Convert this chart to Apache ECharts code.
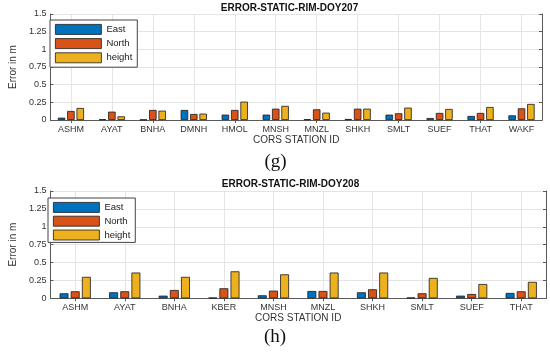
<!DOCTYPE html>
<html><head><meta charset="utf-8">
<script src="https://cdn.jsdelivr.net/npm/echarts@6/dist/echarts.min.js"></script>
<style>html,body{margin:0;padding:0;background:#fff}#c{width:550px;height:354px}</style>
</head><body><div id="c"></div>
<script>
// ---- data (g) DOY207 ----
const stations207 = ['ASHM','AYAT','BNHA','DMNH','HMOL','MNSH','MNZL','SHKH','SMLT','SUEF','THAT','WAKF'];
const east207   = [0.033,0.010,0.005,0.142,0.076,0.076,0.010,0.014,0.076,0.028,0.057,0.066];
const north207  = [0.128,0.118,0.142,0.085,0.142,0.160,0.151,0.160,0.095,0.100,0.100,0.165];
const height207 = [0.170,0.052,0.132,0.090,0.260,0.200,0.104,0.160,0.175,0.156,0.184,0.227];
// ---- data (h) DOY208 ----
const stations208 = ['ASHM','AYAT','BNHA','KBER','MNSH','MNZL','SHKH','SMLT','SUEF','THAT'];
const east208   = [0.070,0.084,0.037,0.009,0.042,0.102,0.084,0.010,0.037,0.075];
const north208  = [0.098,0.098,0.116,0.140,0.107,0.102,0.126,0.070,0.060,0.098];
const height208 = [0.300,0.360,0.300,0.377,0.335,0.360,0.360,0.285,0.200,0.230];
const yTicks = [0, 0.25, 0.5, 0.75, 1, 1.25, 1.5];
const seriesNames = ['East','North','height'];
const colors = ['#0072BD','#D95319','#EDB120'];

const chart = echarts.init(document.getElementById('c'), null, {renderer:'canvas'});
const txt = '#333';
const axisCol = '#5a5a5a';
const gridCol = '#e4e4e4';
const font = 'Liberation Sans, Arial, sans-serif';

function xAxes(gi, data){
  return [{
    gridIndex: gi, type:'category', data, position:'bottom',
    axisLine:{show:true, lineStyle:{color:axisCol, width:1}},
    axisTick:{show:true, inside:true, alignWithLabel:true, length:3, lineStyle:{color:axisCol}},
    axisLabel:{fontSize:9, color:txt, margin:5, fontFamily:font, interval:0},
    splitLine:{show:true, alignWithLabel:true, lineStyle:{color:gridCol, width:1}},
    name:'CORS STATION ID', nameLocation:'middle', nameGap:15,
    nameTextStyle:{fontSize:10, color:txt, fontFamily:font}
  },{
    gridIndex: gi, type:'category', data, position:'top',
    axisLine:{show:true, lineStyle:{color:axisCol, width:1}},
    axisTick:{show:true, inside:true, alignWithLabel:true, length:3, lineStyle:{color:axisCol}},
    axisLabel:{show:false}, splitLine:{show:false}
  }];
}
function yAxes(gi, gap){
  return [{
    gridIndex: gi, type:'value', min:yTicks[0], max:yTicks[yTicks.length-1], interval:0.25, position:'left',
    axisLine:{show:true, lineStyle:{color:axisCol, width:1}},
    axisTick:{show:true, inside:true, length:3, lineStyle:{color:axisCol}},
    axisLabel:{fontSize:9, color:txt, margin:4, fontFamily:font},
    splitLine:{show:true, lineStyle:{color:gridCol, width:1}},
    name:'Error in m', nameLocation:'middle', nameGap:gap, nameRotate:90,
    nameTextStyle:{fontSize:10, color:txt, fontFamily:font}
  },{
    gridIndex: gi, type:'value', min:yTicks[0], max:yTicks[yTicks.length-1], interval:0.25, position:'right',
    axisLine:{show:true, lineStyle:{color:axisCol, width:1}},
    axisTick:{show:true, inside:true, length:3, lineStyle:{color:axisCol}},
    axisLabel:{show:false}, splitLine:{show:false}
  }];
}
function bars(xi, yi, arrs, catGap){
  return arrs.map((d,i)=>({
    type:'bar', name:seriesNames[i], data:d, xAxisIndex:xi, yAxisIndex:yi,
    barGap:'25%', barCategoryGap:catGap,
    itemStyle:{color:colors[i], borderColor:'#1a1a1a', borderWidth:0.8},
    emphasis:{disabled:true}, animation:false
  }));
}
const legendBase = {
  data:seriesNames, orient:'vertical', icon:'rect', itemWidth:46, itemHeight:10,
  backgroundColor:'#fff', borderColor:'#444', borderWidth:1, borderRadius:0,
  itemStyle:{borderColor:'#1a1a1a', borderWidth:0.8},
  textStyle:{fontSize:9.5, color:'#222', fontFamily:font}, selectedMode:false
};

const option = {
  animation:false,
  grid:[
    {left:37, right:8, top:14, height:106, containLabel:false},
    {left:35, right:4, top:191, height:107.3, containLabel:false}
  ],
  xAxis:[...xAxes(0, stations207), ...xAxes(1, stations208)],
  yAxis:[...yAxes(0, 23), ...yAxes(1, 21)],
  legend:[
    Object.assign({}, legendBase, {left:50, top:20, itemGap:3.4, padding:[4,5,4,5]}),
    Object.assign({}, legendBase, {left:48, top:198, itemGap:3, padding:[4,5,2,5]})
  ],
  graphic:[
    {type:'text', x:289.5, y:8.5, style:{text:'ERROR-STATIC-RIM-DOY207', textAlign:'center', textVerticalAlign:'middle', font:'bold 10px Liberation Sans, Arial, sans-serif', fill:'#111'}},
    {type:'text', x:290.5, y:184.7, style:{text:'ERROR-STATIC-RIM-DOY208', textAlign:'center', textVerticalAlign:'middle', font:'bold 10px Liberation Sans, Arial, sans-serif', fill:'#111'}},
    {type:'text', x:275.5, y:162, style:{text:'(g)', textAlign:'center', textVerticalAlign:'middle', font:'19px Liberation Serif, Times New Roman, serif', fill:'#111'}},
    {type:'text', x:275, y:337, style:{text:'(h)', textAlign:'center', textVerticalAlign:'middle', font:'19px Liberation Serif, Times New Roman, serif', fill:'#111'}}
  ],
  series:[
    ...bars(0, 0, [east207, north207, height207], '36%'),
    ...bars(2, 2, [east208, north208, height208], '37%')
  ]
};
chart.setOption(option);
</script>
</body></html>
